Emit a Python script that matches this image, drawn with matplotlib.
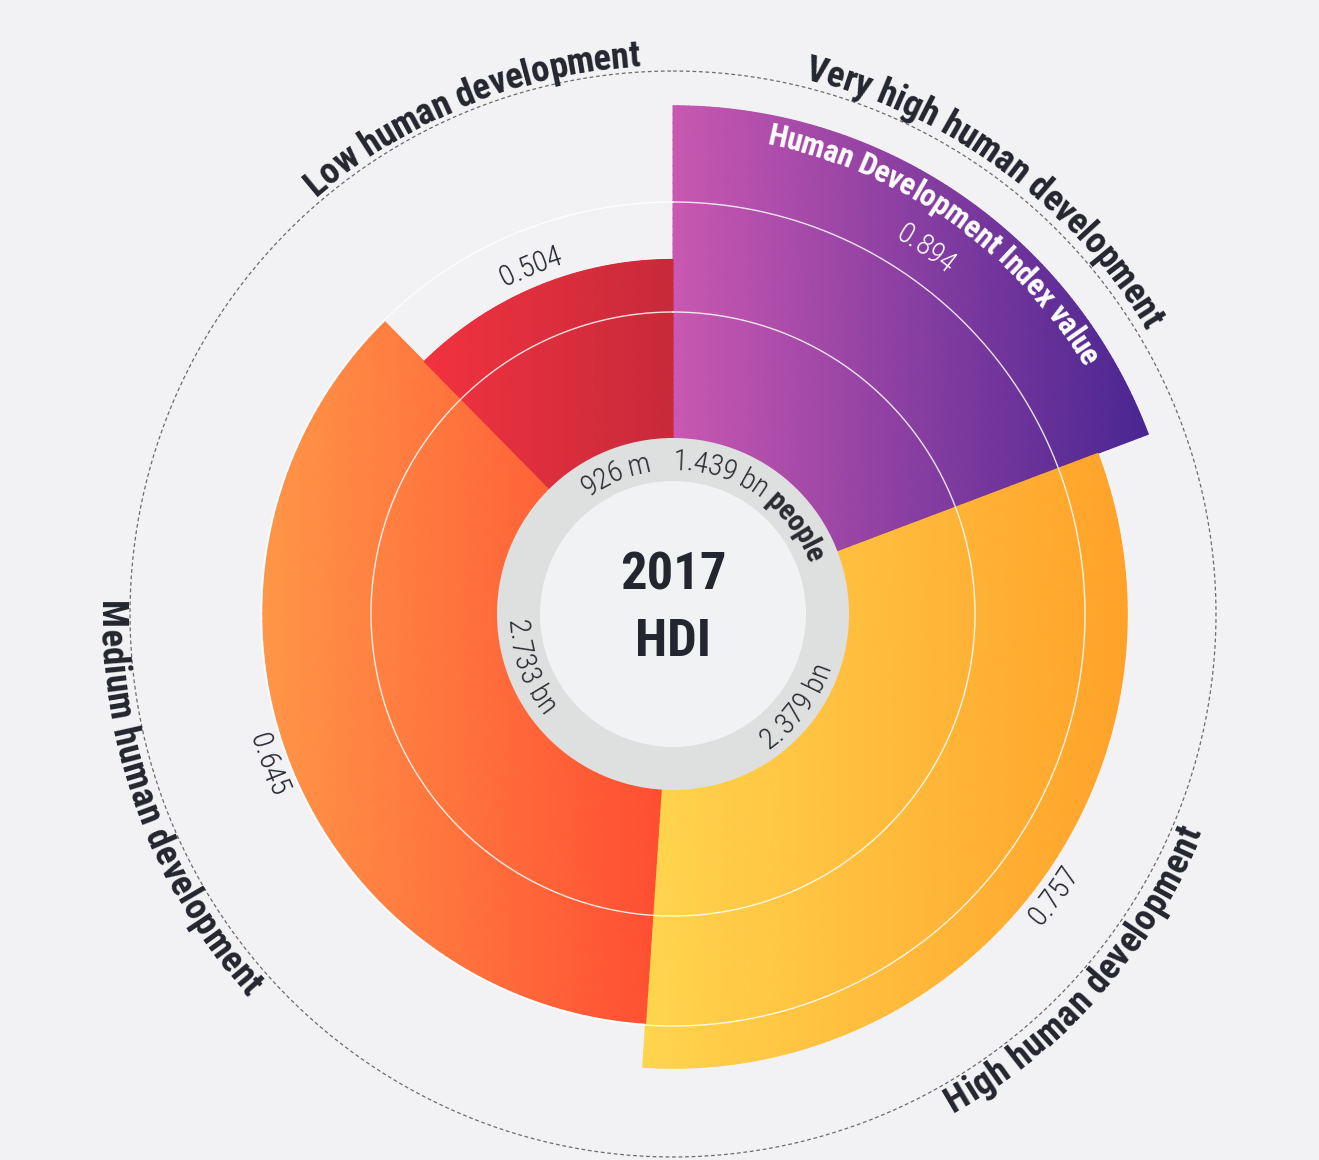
import numpy as np
import matplotlib
matplotlib.use("Agg")
import matplotlib.pyplot as plt
from matplotlib import font_manager
from matplotlib.colors import LinearSegmentedColormap
from matplotlib.font_manager import FontProperties

# HDI groups, clockwise from 12 o'clock
groups = ["Very high human development", "High human development",
          "Medium human development", "Low human development"]
population_bn = [1.439, 2.379, 2.733, 0.926]
pop_labels = ["1.439 bn", "2.379 bn", "2.733 bn", "926 m"]
hdi_values = [0.894, 0.757, 0.645, 0.504]
hdi_labels = ["0.894", "0.757", "0.645", "0.504"]

color_left = ["#c958b1", "#ffd54e", "#ff9647", "#f2323f"]
color_right = ["#4a2692", "#ffa22a", "#ff4c32", "#c72a3a"]

BG = "#f2f2f4"
DARK = "#23252f"

# pick a condensed face if one is installed, else plain Liberation Sans
COND = ("Liberation Sans", "normal")
faces = {(f.name, f.stretch) for f in font_manager.fontManager.ttflist}
for fam in ["Roboto Condensed", "Liberation Sans Narrow", "Noto Sans", "Open Sans", "Roboto"]:
    hit = [s for (n, s) in faces if n == fam and s in ("condensed", "semi-condensed")]
    if fam in ("Roboto Condensed", "Liberation Sans Narrow") and any(n == fam for n, _ in faces):
        COND = (fam, "normal")
        break
    if hit:
        COND = (fam, hit[0])
        break

# radial axis: r = R_MIN sits at the centre, R_MAX at R_PX pixels
R_MIN, R_MAX, R_PX = -0.396, 1.0, 550.0
CX, CY = 673, 614
W, H = 1319, 1160


def rdata(px):
    return R_MIN + px / R_PX * (R_MAX - R_MIN)


fig = plt.figure(figsize=(W / 100, H / 100), dpi=100)
fig.patch.set_facecolor(BG)
ax = fig.add_axes([(CX - R_PX) / W, (H - CY - R_PX) / H, 2 * R_PX / W, 2 * R_PX / H],
                  projection="polar")
ax.set_theta_zero_location("N")
ax.set_theta_direction(-1)
ax.set_ylim(R_MIN, R_MAX)
ax.set_axis_off()

total = sum(population_bn)
widths = np.array(population_bn) / total * 2 * np.pi
starts = np.concatenate([[0], np.cumsum(widths)[:-1]])
mids = starts + widths / 2

# gradient filled sectors (horizontal gradient across each sector)
for i in range(len(groups)):
    th = np.linspace(starts[i], starts[i] + widths[i], 120)
    rr = np.linspace(R_MIN, hdi_values[i], 60)
    TH, RR = np.meshgrid(th, rr)
    X = (RR - R_MIN) * np.sin(TH)
    C = (X - X.min()) / (X.max() - X.min())
    cmap = LinearSegmentedColormap.from_list("g%d" % i, [color_left[i], color_right[i]])
    ax.bar(starts[i], hdi_values[i] - R_MIN, width=widths[i], bottom=R_MIN, align="edge",
           color=color_left[i], linewidth=0, zorder=2)
    ax.pcolormesh(TH, RR, C, cmap=cmap, shading="gouraud", vmin=0, vmax=1, zorder=2.5)

# thin white reference circles and the dashed outer circle
full = np.linspace(0, 2 * np.pi, 500)
for px in [302, 412]:
    ax.plot(full, np.full_like(full, rdata(px)), color="white", lw=1.0, alpha=0.85, zorder=3)
ax.plot(full, np.full_like(full, rdata(543)), color="#6b6b70", lw=0.9,
        ls=(0, (3, 2.2)), zorder=3, clip_on=False)

# centre ring
ax.bar(0, rdata(176) - R_MIN, width=2 * np.pi, bottom=R_MIN, color="#dee0e0", lw=0, zorder=4)
ax.bar(0, rdata(133) - R_MIN, width=2 * np.pi, bottom=R_MIN, color="#f1f2f3", lw=0, zorder=4.1)

renderer = fig.canvas.get_renderer()


def fprop(font, size, weight):
    return FontProperties(family=[font[0], "DejaVu Sans"], stretch=font[1], size=size, weight=weight)


def text_w(s, fp):
    w1, _, _ = renderer.get_text_width_height_descent("I" + s + "I", fp, ismath=False)
    w0, _, _ = renderer.get_text_width_height_descent("II", fp, ismath=False)
    return w1 - w0


def fit_size(texts, targets, size, weight, font, power=0.5):
    # compromise between the height-based size and the width-based one
    ratios = [t / text_w(s, fprop(font, size, weight)) for s, t in zip(texts, targets)]
    return size * np.mean(ratios) ** power


def arc_text(segments, center, r_px, size, color=DARK, font=COND):
    # segments: list of (text, weight); centre angle in radians (compass)
    outward = np.cos(center) > 0
    chars = []
    for s, weight in segments:
        fp = fprop(font, size, weight)
        for ch in s:
            chars.append((ch, fp))
    ws = [text_w(ch, fp) for ch, fp in chars]
    tot = sum(ws)
    cap = 0.72 * size * 100 / 72
    r_base = r_px - cap / 2 if outward else r_px + cap / 2
    pos = 0.0
    for (ch, fp), w in zip(chars, ws):
        off = (pos + w / 2 - tot / 2) / r_px
        pos += w
        if ch == " ":
            continue
        if outward:
            phi = center + off
            rot = -np.degrees(phi)
        else:
            phi = center - off
            rot = 180 - np.degrees(phi)
        ax.text(phi, rdata(r_base), ch, fontproperties=fp, color=color, rotation=rot,
                rotation_mode="anchor", ha="center", va="baseline", zorder=6, clip_on=False)


# group names around the outside
name_r = [564, 559, 560, 562]
name_shift = [1.7, 5.0, 0.0, 0.3]
name_len = [435, 375, 427, 365]
name_size = fit_size(groups, name_len, 26.5, "bold", COND, power=0.7)
for i, name in enumerate(groups):
    arc_text([(name, "bold")], mids[i] + np.radians(name_shift[i]), name_r[i], name_size)

# HDI values
val_r = [447, 472, 430, 378]
val_col = ["white", DARK, DARK, DARK]
val_size = fit_size(hdi_labels, [66] * 4, 21, "light", COND)
for i, lab in enumerate(hdi_labels):
    arc_text([(lab, "light")], mids[i], val_r[i], val_size, color=val_col[i])

hdi_title = "Human Development Index value"
arc_text([(hdi_title, "bold")], mids[0] + np.radians(0.5), 490,
         fit_size([hdi_title], [422], 19, "bold", COND, power=0.85), color="white")

# population counts on the ring
pop_size = 1.08 * fit_size(["926 m", "1.439 bn people", "2.733 bn"], [70, 162, 95], 20, "light", COND)
for i, lab in enumerate(pop_labels):
    segs = [(lab, "light")]
    if i == 0:
        segs = [(lab + " ", "light"), ("people", "bold")]
    arc_text(segs, mids[i], 155, pop_size, color="#2a2a30")

big = fprop(COND, fit_size(["2017", "HDI"], [93, 77], 40, "bold", COND), "bold")
ax.text(0.5, 0.5 + 39 / 1100, "2017", transform=ax.transAxes, ha="center", va="center",
        fontproperties=big, color=DARK, zorder=7)
ax.text(0.5, 0.5 - 28 / 1100, "HDI", transform=ax.transAxes, ha="center", va="center",
        fontproperties=big, color=DARK, zorder=7)

fig.savefig("out.png", dpi=100, facecolor=BG)
